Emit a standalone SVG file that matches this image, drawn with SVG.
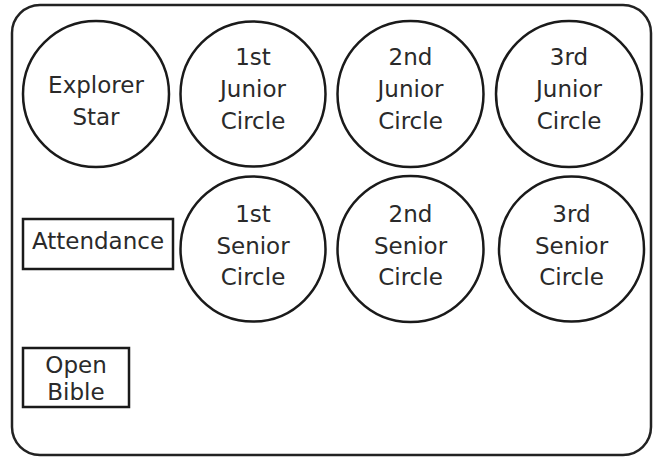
<svg xmlns="http://www.w3.org/2000/svg" width="659" height="457" viewBox="0 0 659 457">
<style>
.frame{fill:none;stroke:#222;stroke-width:2.5}
.n{fill:#fff;stroke:#1a1a1a;stroke-width:2.5}
.t{font-family:"DejaVu Sans",sans-serif;font-size:23px;fill:#2a2a2a;text-anchor:middle}
</style>
<rect class="frame" x="12" y="5" width="639" height="450" rx="28" ry="28"/>
<g id="explorer-star"><circle class="n" cx="96" cy="94" r="73"/><text class="t" x="96" y="93">Explorer</text><text class="t" x="96" y="125">Star</text></g>
<g id="junior1"><circle class="n" cx="253" cy="94" r="72.5"/><text class="t" x="253" y="65">1st</text><text class="t" x="253" y="97">Junior</text><text class="t" x="253" y="129">Circle</text></g>
<g id="junior2"><circle class="n" cx="410.5" cy="94" r="73"/><text class="t" x="410.5" y="65">2nd</text><text class="t" x="410.5" y="97">Junior</text><text class="t" x="410.5" y="129">Circle</text></g>
<g id="junior3"><circle class="n" cx="569" cy="94" r="73"/><text class="t" x="569" y="65">3rd</text><text class="t" x="569" y="97">Junior</text><text class="t" x="569" y="129">Circle</text></g>
<g id="senior1"><circle class="n" cx="253" cy="249" r="72.5"/><text class="t" x="253" y="222">1st</text><text class="t" x="253" y="254">Senior</text><text class="t" x="253" y="285">Circle</text></g>
<g id="senior2"><circle class="n" cx="410.5" cy="249" r="73"/><text class="t" x="410.5" y="222">2nd</text><text class="t" x="410.5" y="254">Senior</text><text class="t" x="410.5" y="285">Circle</text></g>
<g id="senior3"><circle class="n" cx="571.5" cy="249" r="72.5"/><text class="t" x="571.5" y="222">3rd</text><text class="t" x="571.5" y="254">Senior</text><text class="t" x="571.5" y="285">Circle</text></g>
<g id="attendance"><rect class="n" x="23" y="219" width="150" height="50"/><text class="t" x="98" y="249">Attendance</text></g>
<g id="open-bible"><rect class="n" x="23" y="348" width="106" height="59"/><text class="t" x="76" y="373">Open</text><text class="t" x="76" y="400">Bible</text></g>
<g id="connectors"/>
</svg>
